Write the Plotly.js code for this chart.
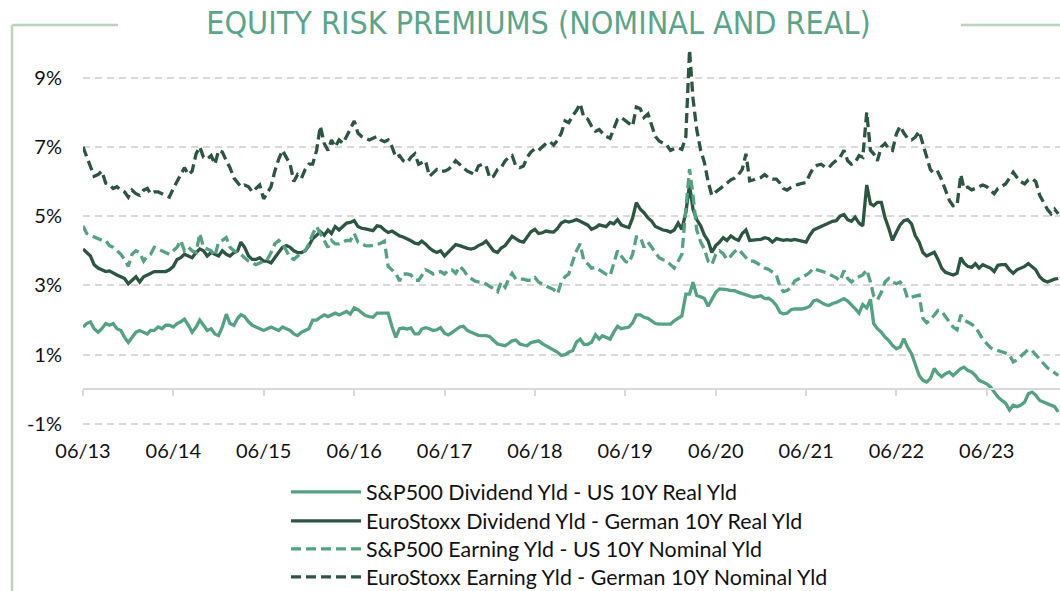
<!DOCTYPE html>
<html><head><meta charset="utf-8">
<script src="https://cdn.plot.ly/plotly-3.0.1.min.js"></script>
<style>html,body{margin:0;padding:0;background:#fff;}#chart{width:1060px;height:591px;}</style>
</head><body><div id="chart"></div>
<script>
// semi-monthly observation dates (1st and 16th), June 2013 .. March 2024
const dates = [];
for (let k = 0; k < 260; k++) {
  const mi = 5 + Math.floor(k / 2);
  const yr = 2013 + Math.floor(mi / 12);
  const mo = (mi % 12) + 1;
  dates.push(yr + '-' + String(mo).padStart(2, '0') + '-' + (k % 2 ? '16' : '01'));
}

const seriesNames = [
  'S&P500 Dividend Yld - US 10Y Real Yld',
  'EuroStoxx Dividend Yld - German 10Y Real Yld',
  'S&P500 Earning Yld - US 10Y Nominal Yld',
  'EuroStoxx Earning Yld - German 10Y Nominal Yld'
];

const spDivReal = [
1.8,1.9,1.95,1.75,1.65,1.75,1.9,1.85,1.9,1.75,
1.7,1.5,1.35,1.5,1.65,1.7,1.65,1.6,1.7,1.7,
1.8,1.75,1.85,1.85,1.8,1.9,1.95,2.03,1.85,1.65,
1.8,2.0,1.85,1.7,1.75,1.6,1.55,1.8,2.17,1.9,
1.85,2.05,2.15,2.1,1.95,1.85,1.8,1.75,1.7,1.75,
1.8,1.75,1.7,1.8,1.75,1.7,1.6,1.55,1.65,1.7,
1.75,2.0,2.0,2.08,2.15,2.1,2.15,2.2,2.15,2.2,
2.25,2.17,2.35,2.3,2.22,2.13,2.1,2.08,2.2,2.2,
2.18,2.2,1.8,1.5,1.75,1.77,1.74,1.77,1.6,1.6,
1.74,1.78,1.75,1.7,1.72,1.78,1.62,1.57,1.64,1.73,
1.8,1.82,1.7,1.65,1.6,1.56,1.55,1.55,1.52,1.42,
1.31,1.28,1.26,1.33,1.4,1.42,1.31,1.28,1.26,1.35,
1.37,1.4,1.32,1.26,1.21,1.15,1.07,0.98,1.0,1.07,
1.12,1.36,1.45,1.3,1.3,1.36,1.58,1.45,1.55,1.5,
1.45,1.65,1.82,1.75,1.78,1.8,1.92,2.15,2.15,2.08,
2.05,1.97,1.9,1.88,1.88,1.88,1.88,1.98,2.05,2.12,
2.75,2.75,3.09,2.71,2.67,2.62,2.4,2.6,2.8,2.9,
2.9,2.88,2.85,2.85,2.8,2.76,2.73,2.7,2.66,2.68,
2.7,2.62,2.63,2.55,2.42,2.22,2.18,2.2,2.3,2.32,
2.32,2.32,2.35,2.4,2.55,2.58,2.51,2.45,2.42,2.48,
2.51,2.56,2.62,2.55,2.45,2.33,2.2,2.45,2.35,2.6,
1.9,1.75,1.65,1.51,1.41,1.27,1.17,1.22,1.46,1.22,
1.03,0.74,0.4,0.26,0.21,0.31,0.6,0.45,0.36,0.45,
0.5,0.4,0.5,0.6,0.64,0.55,0.5,0.4,0.26,0.21,
0.16,0.07,-0.08,-0.22,-0.32,-0.4,-0.6,-0.46,-0.5,-0.46,
-0.37,-0.13,-0.08,-0.17,-0.32,-0.37,-0.41,-0.46,-0.5,-0.65
];

const euDivReal = [
4.05,3.95,3.85,3.6,3.5,3.45,3.4,3.42,3.35,3.3,
3.25,3.2,3.05,3.15,3.25,3.1,3.25,3.3,3.35,3.4,
3.4,3.4,3.4,3.45,3.55,3.75,3.8,3.9,3.85,3.8,
3.95,4.05,4.0,3.85,3.95,3.9,3.85,4.0,3.9,3.85,
3.95,4.0,4.25,4.1,3.85,3.75,3.75,3.8,3.7,3.7,
3.65,3.8,3.95,4.1,4.15,4.1,4.0,3.95,3.95,4.0,
4.15,4.35,4.45,4.55,4.45,4.6,4.5,4.7,4.6,4.7,
4.8,4.82,4.87,4.7,4.65,4.63,4.6,4.58,4.72,4.7,
4.6,4.53,4.57,4.5,4.43,4.4,4.35,4.29,4.22,4.2,
4.28,4.2,4.08,4.0,3.95,4.0,3.85,3.95,4.05,4.18,
4.15,4.1,4.07,4.05,4.08,4.15,4.2,4.28,4.15,4.0,
3.95,4.08,4.15,4.3,4.42,4.35,4.28,4.25,4.42,4.55,
4.62,4.5,4.52,4.57,4.55,4.54,4.65,4.8,4.86,4.83,
4.86,4.9,4.85,4.8,4.74,4.62,4.67,4.75,4.72,4.7,
4.82,4.78,4.9,4.75,4.7,4.67,4.95,5.39,5.2,5.1,
4.95,4.86,4.7,4.64,4.6,4.58,4.54,4.6,4.8,4.62,
5.1,5.9,5.2,4.9,4.72,4.45,4.29,3.95,4.15,4.25,
4.38,4.3,4.43,4.35,4.3,4.5,4.6,4.3,4.3,4.32,
4.33,4.38,4.35,4.25,4.35,4.33,4.3,4.32,4.3,4.33,
4.3,4.28,4.25,4.45,4.6,4.65,4.7,4.75,4.82,4.85,
4.87,5.0,5.05,4.9,4.85,4.97,4.8,4.72,5.9,5.36,
5.3,5.4,5.4,4.95,4.65,4.3,4.54,4.75,4.87,4.9,
4.78,4.44,4.25,3.95,3.85,3.9,3.96,3.75,3.5,3.38,
3.34,3.3,3.35,3.8,3.65,3.55,3.52,3.63,3.5,3.6,
3.55,3.5,3.4,3.58,3.6,3.6,3.45,3.35,3.45,3.5,
3.55,3.63,3.55,3.45,3.25,3.15,3.1,3.15,3.18,3.2
];

const spEarnNom = [
4.72,4.5,4.45,4.4,4.35,4.3,4.3,4.15,4.1,4.0,
3.9,3.75,3.55,3.9,4.0,3.95,3.7,3.85,3.9,4.1,
4.05,4.0,3.95,3.9,4.0,4.1,4.3,4.0,4.1,4.0,
3.95,4.5,4.1,4.05,4.0,3.85,4.25,4.3,4.38,4.1,
4.0,3.95,3.9,3.8,3.7,3.65,3.6,3.65,3.7,3.75,
3.95,4.2,4.3,4.2,4.0,3.8,3.75,3.85,3.95,4.0,
4.2,4.48,4.7,4.5,4.3,4.1,4.3,4.2,4.2,4.25,
4.3,4.29,4.5,4.25,4.19,4.15,4.14,4.15,4.18,4.22,
4.28,3.55,3.45,3.35,3.13,3.33,3.33,3.3,3.15,3.15,
3.28,3.45,3.4,3.33,3.38,3.4,3.33,3.45,3.45,3.35,
3.55,3.45,3.28,3.2,3.13,3.1,3.09,3.04,2.98,2.9,
2.82,3.1,2.95,3.2,3.35,3.18,3.18,3.18,3.15,3.15,
3.23,3.1,3.04,2.99,2.95,2.88,2.76,3.1,3.25,3.33,
3.7,4.0,4.2,3.71,3.62,3.5,3.52,3.45,3.4,3.32,
3.28,3.66,4.0,3.85,3.7,3.65,3.9,4.4,4.4,4.1,
4.25,4.1,3.95,3.8,3.74,3.71,3.6,3.5,3.7,3.9,
5.2,6.36,5.6,4.6,4.25,4.05,3.7,3.6,3.9,4.0,
3.92,3.75,3.85,3.98,4.05,3.92,3.8,3.7,3.7,3.64,
3.56,3.5,3.46,3.38,3.3,2.95,2.82,2.85,2.94,3.13,
3.18,3.23,3.3,3.38,3.5,3.45,3.42,3.38,3.33,3.27,
3.22,3.13,3.43,3.2,3.1,3.2,3.26,3.3,3.45,3.1,
2.7,2.58,2.8,3.1,3.2,3.1,3.05,3.1,2.97,2.63,
2.66,2.7,2.72,2.05,1.92,2.0,2.15,2.28,2.25,2.1,
1.95,1.8,1.72,2.15,2.0,1.95,1.88,1.8,1.62,1.45,
1.32,1.2,1.15,1.12,1.08,1.05,1.0,0.79,0.85,0.95,
1.03,1.15,1.12,1.0,0.85,0.75,0.62,0.55,0.48,0.4
];

const euEarnNom = [
7.0,6.7,6.4,6.15,6.2,6.3,5.95,5.9,5.8,5.85,
5.75,5.7,5.55,5.75,5.65,5.6,5.75,5.8,5.65,5.7,
5.7,5.65,5.6,5.55,5.8,6.0,6.25,6.4,6.2,6.3,
6.8,7.0,6.7,6.65,6.75,6.5,6.9,6.85,6.6,6.4,
6.1,5.95,5.85,5.9,5.85,5.7,5.8,5.9,5.5,5.7,
5.85,6.3,6.65,6.9,6.7,6.5,6.0,6.2,6.1,6.35,
6.5,6.5,6.9,7.6,7.1,6.9,7.2,7.0,7.2,7.1,
7.3,7.5,7.75,7.4,7.3,7.25,7.2,7.25,7.3,7.2,
7.15,7.2,7.0,6.7,6.75,6.6,6.55,6.7,6.8,6.5,
6.55,6.6,6.15,6.25,6.35,6.3,6.3,6.35,6.45,6.6,
6.5,6.4,6.3,6.25,6.2,6.45,6.5,6.45,6.1,6.15,
6.35,6.4,6.6,6.7,6.75,6.45,6.4,6.45,6.7,6.85,
6.95,6.9,7.0,7.1,7.15,7.05,7.2,7.4,7.75,7.7,
7.9,8.05,8.25,7.85,7.8,7.6,7.45,7.5,7.4,7.3,
7.25,7.5,7.8,7.85,7.75,7.68,7.6,8.15,8.1,7.85,
7.95,7.6,7.3,7.17,7.12,7.05,6.9,6.95,6.97,6.93,
7.3,9.8,8.4,7.5,6.9,6.55,6.0,5.6,5.7,5.78,
5.85,5.95,6.05,6.1,6.2,6.35,6.8,6.02,6.05,6.1,
6.12,6.2,6.1,6.07,6.07,5.95,5.8,5.75,5.83,5.88,
5.92,5.95,5.97,6.21,6.4,6.47,6.5,6.42,6.4,6.52,
6.6,6.7,6.9,6.6,6.5,6.55,6.75,6.7,8.0,6.9,
6.8,6.6,7.0,7.1,6.95,6.9,7.38,7.6,7.4,7.25,
7.2,7.28,7.45,7.1,6.7,6.35,6.22,6.27,6.05,5.75,
5.45,5.3,5.31,6.2,5.8,5.84,5.76,5.8,5.84,5.9,
5.85,5.76,5.65,5.8,5.88,5.93,6.1,6.27,6.12,6.0,
5.93,6.05,6.08,6.0,5.6,5.4,5.2,5.07,5.2,5.07
];

const yTicks = [-1, 1, 3, 5, 7, 9];
const yTickText = ['-1%', '1%', '3%', '5%', '7%', '9%'];

const LIGHT = '#54a283';
const DARK = '#2c5641';
const FRAME = '#b9d4b9';
const GRID = '#d9d9d9';
const yMin = -1.03, yMax = 10.0;

// plot-area geometry helpers (pixels -> paper fractions)
const PL = 83, PW = 977, PB = 425, PH = 382;
const px = v => (v - PL) / PW;
const py = v => (PB - v) / PH;

const traces = [
  {x: dates, y: spDivReal, name: seriesNames[0], type: 'scatter', mode: 'lines',
   line: {color: LIGHT, width: 3.3}, legend: 'legend'},
  {x: dates, y: euDivReal, name: seriesNames[1], type: 'scatter', mode: 'lines',
   line: {color: DARK, width: 3.3}, legend: 'legend2'},
  {x: dates, y: spEarnNom, name: seriesNames[2], type: 'scatter', mode: 'lines',
   line: {color: LIGHT, width: 3.3, dash: '10px,5px'}, legend: 'legend3'},
  {x: dates, y: euEarnNom, name: seriesNames[3], type: 'scatter', mode: 'lines',
   line: {color: DARK, width: 3.3, dash: '10px,5px'}, legend: 'legend4'}
];

function legendAt(rowY) {
  return {
    orientation: 'v',
    x: px(286), xanchor: 'left',
    y: py(rowY), yanchor: 'middle',
    itemwidth: 70,
    font: {family: 'Lato, sans-serif', size: 21.4, color: '#111111'},
    bgcolor: 'rgba(0,0,0,0)', borderwidth: 0
  };
}

const layout = {
  width: 1060, height: 591,
  margin: {l: 83, r: 0, t: 43, b: 166, pad: 0, autoexpand: false},
  paper_bgcolor: '#ffffff', plot_bgcolor: '#ffffff',
  font: {family: 'Lato, sans-serif', size: 20, color: '#111111'},
  showlegend: true,
  hovermode: false,
  title: {
    text: 'EQUITY RISK PREMIUMS (NOMINAL AND REAL)',
    font: {family: '"Liberation Sans Narrow", "DejaVu Sans Condensed", sans-serif', size: 32, color: '#5aa58a'},
    x: 538.5 / 1060, xref: 'container', xanchor: 'center',
    y: 1 - 23 / 591, yref: 'container', yanchor: 'middle'
  },
  xaxis: {
    type: 'date',
    range: ['2013-06-01', '2024-03-23'],
    tick0: '2013-06-01', dtick: 'M12', tickformat: '%m/%y',
    anchor: 'free', position: (0 - yMin) / (yMax - yMin),
    showline: true, linecolor: GRID, linewidth: 2,
    ticks: 'outside', ticklen: 6, tickwidth: 2, tickcolor: GRID,
    showgrid: false, zeroline: false,
    ticklabelstandoff: 38,
    tickfont: {family: 'Lato, sans-serif', size: 20, color: '#111111'}
  },
  yaxis: {
    range: [yMin, yMax],
    tickvals: yTicks, ticktext: yTickText,
    showgrid: true, gridcolor: GRID, gridwidth: 2, griddash: '7px,5px',
    zeroline: false, showline: false, ticks: '',
    ticklabelstandoff: 20,
    tickfont: {family: 'Lato, sans-serif', size: 20, color: '#111111'}
  },
  legend: legendAt(492),
  legend2: legendAt(521),
  legend3: legendAt(549),
  legend4: legendAt(577),
  shapes: [
    {type: 'line', xref: 'paper', yref: 'paper', x0: px(12), x1: px(118),
     y0: py(25), y1: py(25), line: {color: FRAME, width: 2.5}},
    {type: 'line', xref: 'paper', yref: 'paper', x0: px(12), x1: px(12),
     y0: py(25), y1: py(600), line: {color: FRAME, width: 2.5}},
    {type: 'line', xref: 'paper', yref: 'paper', x0: px(961), x1: px(1065),
     y0: py(25), y1: py(25), line: {color: FRAME, width: 2.5}}
  ]
};

Plotly.newPlot('chart', traces, layout, {displayModeBar: false, staticPlot: true});
</script>
</body></html>
